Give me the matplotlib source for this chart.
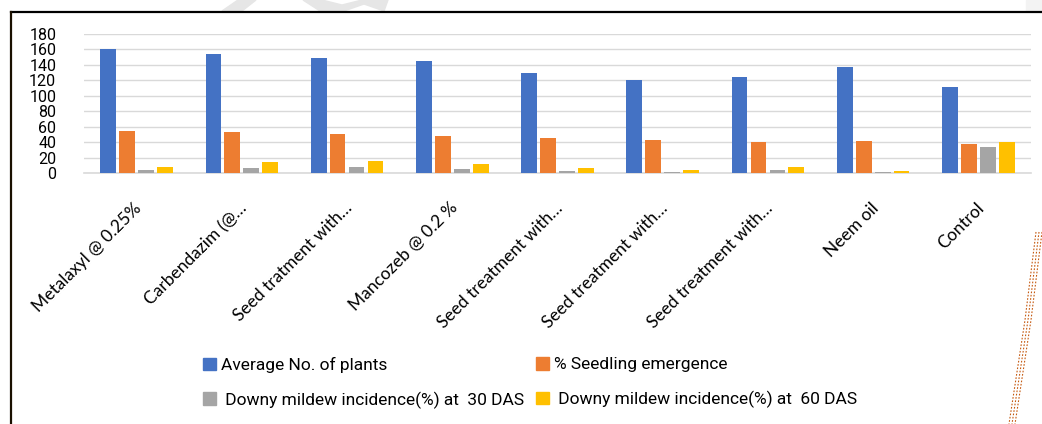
import matplotlib
matplotlib.use("Agg")
import matplotlib.pyplot as plt
import matplotlib.transforms as mtransforms
import numpy as np
from matplotlib.lines import Line2D
from matplotlib.patches import Polygon, Rectangle, Patch

treatments = ["Metalaxyl @ 0.25%", "Carbendazim (@…", "Seed tratment with…",
              "Mancozeb @ 0.2 %", "Seed treatment with…", "Seed treatment with…",
              "Seed treatment with…", "Neem oil", "Control"]
avg_plants = [160, 154, 149, 145, 129, 120, 125, 138, 112]
seedling_emergence = [55, 53, 51, 48, 45, 43.5, 40.5, 41.5, 38]
dm_30das = [4.7, 7.3, 8.2, 5.6, 3, 1.7, 4.3, 1.7, 34]
dm_60das = [8.2, 14.7, 15.5, 11.6, 6.5, 4.7, 8.6, 2.6, 40.5]

series_names = ["Average No. of plants", "% Seedling emergence",
                " Downy mildew incidence(%) at  30 DAS", " Downy mildew incidence(%) at  60 DAS"]
series_colors = ["#4472C4", "#ED7D31", "#A5A5A5", "#FFC000"]
yticks = [0, 20, 40, 60, 80, 100, 120, 140, 160, 180]

W, H = 1042, 424
fig = plt.figure(figsize=(W / 100, H / 100), dpi=100)
ax = fig.add_axes([84 / W, 1 - 173.3 / H, (1031 - 84) / W, (173.3 - 34) / H])

sans = ["Roboto", "DejaVu Sans"]

x = np.arange(len(treatments))
step = 0.18
all_series = [avg_plants, seedling_emergence, dm_30das, dm_60das]
for i, (vals, col) in enumerate(zip(all_series, series_colors)):
    ax.bar(x + (i - 1.5) * step, vals, width=0.15, color=col, zorder=3)

ax.set_xlim(-0.5, len(treatments) - 0.5)
ax.set_ylim(0, 180)
ax.set_yticks(yticks)
ax.set_yticklabels([str(t) for t in yticks], family=sans, fontsize=11.5)
ax.grid(axis="y", color="#d9d9d9", linewidth=1.0, zorder=0)
ax.tick_params(axis="y", length=0, pad=20)
ax.tick_params(axis="x", length=0, pad=19)
ax.set_xticks(x)
ax.set_xticklabels(treatments, rotation=45, ha="right", va="top",
                   rotation_mode="anchor", family=["Lato", "DejaVu Sans"], fontsize=12.5)
shift = mtransforms.ScaledTranslation(-3 / 100, 0, fig.dpi_scale_trans)
for lbl in ax.get_xticklabels():
    lbl.set_transform(lbl.get_transform() + shift)
for s in ["top", "right", "left"]:
    ax.spines[s].set_visible(False)
ax.spines["bottom"].set_color("#d9d9d9")
ax.spines["bottom"].set_linewidth(1.2)

# legend: two columns placed separately
handles = [Patch(color=c) for c in series_colors]
for cols, xpos in [([0, 2], 203), ([1, 3], 536)]:
    fig.legend([handles[i] for i in cols], [series_names[i] for i in cols],
               loc="upper left", bbox_to_anchor=(xpos / W, 1 - 357 / H),
               frameon=False, prop={"family": sans, "size": 12.5},
               handlelength=0.75, handleheight=0.75, handletextpad=0.3,
               labelspacing=1.05, borderaxespad=0, borderpad=0)

# frame around the picture
fig.add_artist(Line2D([11 / W, 1], [1 - 12 / H, 1 - 12 / H], color="black", linewidth=1.6))
fig.add_artist(Line2D([11 / W, 11 / W], [0, 1 - 12 / H], color="#1a1000", linewidth=1.6))
fig.add_artist(Rectangle((1026 / W, 1 - 11 / H), 16 / W, 11 / H, color="#f3f3f3",
                         transform=fig.transFigure))

# watermark bits above the frame
def px(pts):
    return [(a / W, 1 - b / H) for a, b in pts]

fig.add_artist(Polygon(px([(222, 11), (238, 0), (256, 0), (242, 11)]), closed=True,
                       color="#e6e6e6", transform=fig.transFigure))
fig.add_artist(Polygon(px([(303, 0), (322, 0), (342, 5), (362, 0), (388, 0), (384, 11),
                           (364, 4), (344, 11), (320, 11)]), closed=True,
                       color="#e6e6e6", transform=fig.transFigure))

# dashed decoration on the right edge
for off in [0, 3, 6]:
    fig.add_artist(Line2D([(1042 - off) / W, (1031 - off) / W, (1015 - off) / W],
                          [1 - 232 / H, 1 - 320 / H, 0],
                          color="#c55a11", linewidth=0.8, linestyle=(0, (1.5, 1.5))))

fig.savefig("out.png", dpi=100)
